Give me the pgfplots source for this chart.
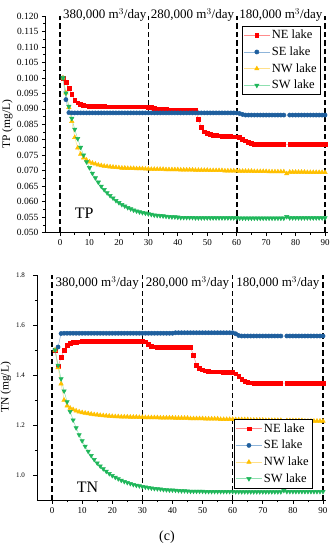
\documentclass[border=0pt]{standalone}
\usepackage{fontspec}
\setmainfont{Liberation Serif}
\usepackage{pgfplots}
\pgfplotsset{compat=1.18}
\definecolor{cNE}{HTML}{FF0000}
\definecolor{cNEl}{HTML}{FF8C8C}
\definecolor{cSE}{HTML}{1F5F9E}
\definecolor{cSEl}{HTML}{8FB5DA}
\definecolor{cNW}{HTML}{FFC000}
\definecolor{cNWl}{HTML}{FFE08A}
\definecolor{cSW}{HTML}{1FB65A}
\definecolor{cSWl}{HTML}{8FE0B0}
\pgfplotsset{
  myax/.style={
    scale only axis, clip=false,
    axis x line*=bottom, axis y line*=left,
    axis line style={-, line width=0.8pt},
    tick align=outside, major tick length=3.5pt, minor tick length=2pt,
    every tick/.style={black, line width=0.7pt},
    xmin=-5, xmax=91, xtick={0,10,...,90}, minor x tick num=1,
    /pgf/number format/assume math mode=true,
    x tick label style={font=\fontsize{9}{10}\selectfont},
    legend cell align=left,
    legend style={draw=black, line width=0.5pt, fill=white, font=\fontsize{12.5}{13.5}\selectfont, inner xsep=2pt, inner ysep=2pt, /tikz/row sep=2.5pt},
    legend image code/.code={\draw[mark repeat=2,mark phase=2] plot coordinates {(0cm,0cm)(0.45cm,0cm)(0.9cm,0cm)};},
  },
  sNE/.style={cNEl, line width=0.5pt, mark=square*, mark size=1.9pt, mark options={fill=cNE, draw=cNE, solid}},
  sSE/.style={cSEl, line width=0.5pt, mark=*, mark size=2.1pt, mark options={fill=cSE, draw=cSE, solid}},
  sNW/.style={cNWl, line width=0.5pt, mark=triangle*, mark size=2.5pt, mark options={fill=cNW, draw=cNW, solid}},
  sSW/.style={cSWl, line width=0.5pt, mark=triangle*, mark size=2.5pt, mark options={fill=cSW, draw=cSW, solid, rotate=180}},
  vdash/.style={black, line width=1.6pt, dash pattern=on 5.5pt off 3pt, mark=none, forget plot},
}
\begin{document}
\begin{tikzpicture}
\path[use as bounding box] (0,0) rectangle (334pt,-550pt);
% ---------------- TP ----------------
\begin{axis}[myax, at={(45.3pt,-232.7pt)}, anchor=south west,
  width=282.7pt, height=216.7pt, ymin=0.05, ymax=0.12,
  ytick={0.050,0.055,0.060,0.065,0.070,0.075,0.080,0.085,0.090,0.095,0.100,0.105,0.110,0.115,0.120},
  minor y tick num=1,
  y tick label style={font=\fontsize{9.5}{10}\selectfont, /pgf/number format/.cd, fixed, fixed zerofill, precision=3},
  ylabel={TP (mg/L)},
  every axis y label/.style={at={(rel axis cs:0,0.5)}, xshift=-38pt, rotate=90, anchor=center, font=\fontsize{11.5}{12}\selectfont},
  legend style={at={(0.975,0.954)}, anchor=north east},
]
\addplot[vdash] coordinates {(0,0.05) (0,0.12)};
\addplot[vdash] coordinates {(30,0.05) (30,0.12)};
\addplot[vdash] coordinates {(60,0.05) (60,0.12)};
\addplot[vdash] coordinates {(90,0.05) (90,0.12)};
\addplot[sNE] coordinates {
(1,0.1000)(2,0.0985)(3,0.0967)(4,0.0948)(5,0.0928)(6,0.0920)(7,0.0915)(8,0.0912)(9,0.0910)(10,0.0909)
(11,0.0908)(12,0.0908)(13,0.0908)(14,0.0908)(15,0.0908)(16,0.0907)(17,0.0907)(18,0.0907)(19,0.0907)(20,0.0907)
(21,0.0907)(22,0.0907)(23,0.0907)(24,0.0907)(25,0.0907)(26,0.0907)(27,0.0907)(28,0.0907)(29,0.0907)(30,0.0906)
(31,0.0904)(32,0.0901)(33,0.0899)(34,0.0898)(35,0.0898)(36,0.0898)(37,0.0897)(38,0.0897)(39,0.0897)(40,0.0897)
(41,0.0897)(42,0.0896)(43,0.0896)(44,0.0896)(45,0.0896)(46,0.0896)(47,0.0866)(48,0.0840)(49,0.0826)(50,0.0820)
(51,0.0817)(52,0.0815)(53,0.0814)(54,0.0813)(55,0.0812)(56,0.0812)(57,0.0811)(58,0.0811)(59,0.0810)(60,0.0810)
(61,0.0808)(62,0.0803)(63,0.0797)(64,0.0792)(65,0.0789)(66,0.0787)(67,0.0786)(68,0.0786)(69,0.0786)(70,0.0786)
(71,0.0785)(72,0.0785)(73,0.0785)(74,0.0785)(75,0.0785)(76,0.0785)(78,0.0785)(79,0.0785)(80,0.0785)
(81,0.0785)(82,0.0785)(83,0.0785)(84,0.0785)(85,0.0785)(86,0.0785)(87,0.0785)(88,0.0785)(89,0.0785)(90,0.0785)};
\addlegendentry{NE lake}
\addplot[sSE] coordinates {
(1,0.1000)(2,0.0930)(3,0.0888)(4,0.0887)(5,0.0887)(6,0.0887)(7,0.0887)(8,0.0887)(9,0.0887)(10,0.0887)
(11,0.0887)(12,0.0887)(13,0.0887)(14,0.0887)(15,0.0887)(16,0.0887)(17,0.0887)(18,0.0887)(19,0.0887)(20,0.0887)
(21,0.0887)(22,0.0887)(23,0.0887)(24,0.0887)(25,0.0887)(26,0.0887)(27,0.0887)(28,0.0887)(29,0.0887)(30,0.0887)
(31,0.0887)(32,0.0887)(33,0.0887)(34,0.0887)(35,0.0887)(36,0.0887)(37,0.0887)(38,0.0887)(39,0.0887)(40,0.0887)
(41,0.0887)(42,0.0887)(43,0.0887)(44,0.0887)(45,0.0887)(46,0.0887)(47,0.0887)(48,0.0887)(49,0.0887)(50,0.0887)
(51,0.0887)(52,0.0887)(53,0.0887)(54,0.0887)(55,0.0887)(56,0.0887)(57,0.0887)(58,0.0887)(59,0.0887)(60,0.0887)
(61,0.0885)(62,0.0882)(63,0.0880)(64,0.0880)(65,0.0880)(66,0.0880)(67,0.0880)(68,0.0880)(69,0.0880)(70,0.0880)
(71,0.0880)(72,0.0880)(73,0.0880)(74,0.0880)(75,0.0880)(76,0.0880)(78,0.0880)(79,0.0880)(80,0.0880)
(81,0.0880)(82,0.0880)(83,0.0880)(84,0.0880)(85,0.0880)(86,0.0880)(87,0.0880)(88,0.0880)(89,0.0880)(90,0.0880)};
\addlegendentry{SE lake}
\addplot[sNW] coordinates {
(1,0.1000)(2,0.0952)(3,0.0905)(4,0.0860)(5,0.0808)(6,0.0774)(7,0.0754)(8,0.0742)(9,0.0735)(10,0.0729)
(11,0.0725)(12,0.0722)(13,0.0719)(14,0.0717)(15,0.0715)(16,0.0714)(17,0.0713)(18,0.0712)(19,0.0711)(20,0.0710)
(21,0.0709)(22,0.0709)(23,0.0708)(24,0.0708)(25,0.0708)(26,0.0707)(27,0.0707)(28,0.0707)(29,0.0706)(30,0.0706)
(31,0.0705)(32,0.0705)(33,0.0705)(34,0.0705)(35,0.0705)(36,0.0704)(37,0.0704)(38,0.0704)(39,0.0704)(40,0.0704)
(41,0.0703)(42,0.0703)(43,0.0703)(44,0.0703)(45,0.0703)(46,0.0702)(47,0.0702)(48,0.0702)(49,0.0702)(50,0.0702)
(51,0.0701)(52,0.0701)(53,0.0701)(54,0.0701)(55,0.0701)(56,0.0700)(57,0.0700)(58,0.0700)(59,0.0700)(60,0.0700)
(61,0.0699)(62,0.0699)(63,0.0699)(64,0.0699)(65,0.0699)(66,0.0698)(67,0.0698)(68,0.0698)(69,0.0698)(70,0.0698)
(71,0.0697)(72,0.0697)(73,0.0697)(74,0.0697)(75,0.0697)(76,0.0697)(77,0.0691)(78,0.0696)(79,0.0696)(80,0.0696)
(81,0.0696)(82,0.0696)(83,0.0696)(84,0.0695)(85,0.0695)(86,0.0695)(87,0.0695)(88,0.0695)(89,0.0695)(90,0.0695)};
\addlegendentry{NW lake}
\addplot[sSW] coordinates {
(1,0.1000)(2,0.0951)(3,0.0908)(4,0.0869)(5,0.0834)(6,0.0804)(7,0.0776)(8,0.0751)(9,0.0729)(10,0.0710)
(11,0.0692)(12,0.0677)(13,0.0663)(14,0.0650)(15,0.0639)(16,0.0629)(17,0.0620)(18,0.0612)(19,0.0604)(20,0.0597)
(21,0.0591)(22,0.0586)(23,0.0581)(24,0.0577)(25,0.0573)(26,0.0570)(27,0.0567)(28,0.0565)(29,0.0563)(30,0.0561)
(31,0.0559)(32,0.0557)(33,0.0556)(34,0.0555)(35,0.0554)(36,0.0553)(37,0.0552)(38,0.0551)(39,0.0551)(40,0.0550)
(41,0.0549)(42,0.0549)(43,0.0549)(44,0.0549)(45,0.0549)(46,0.0548)(47,0.0548)(48,0.0548)(49,0.0548)(50,0.0548)
(51,0.0548)(52,0.0548)(53,0.0548)(54,0.0548)(55,0.0548)(56,0.0548)(57,0.0548)(58,0.0548)(59,0.0548)(60,0.0548)
(61,0.0547)(62,0.0547)(63,0.0547)(64,0.0547)(65,0.0547)(66,0.0547)(67,0.0547)(68,0.0547)(69,0.0547)(70,0.0547)
(71,0.0547)(72,0.0547)(73,0.0547)(74,0.0547)(75,0.0547)(76,0.0547)(77,0.0552)(78,0.0548)(79,0.0548)(80,0.0548)
(81,0.0548)(82,0.0548)(83,0.0548)(84,0.0548)(85,0.0548)(86,0.0548)(87,0.0548)(88,0.0548)(89,0.0548)(90,0.0548)};
\addlegendentry{SW lake}
\node[font=\fontsize{13}{15}\selectfont] at (axis cs:15.2,0.1204) {380,000 m$^{3}$/day};
\node[font=\fontsize{13}{15}\selectfont] at (axis cs:45,0.1204) {280,000 m$^{3}$/day};
\node[font=\fontsize{13}{15}\selectfont] at (axis cs:75,0.1204) {180,000 m$^{3}$/day};
\node[font=\fontsize{16}{18}\selectfont] at (axis cs:8.2,0.0564) {TP};
\end{axis}
% ---------------- TN ----------------
\begin{axis}[myax, at={(37pt,-500pt)}, anchor=south west,
  width=289pt, height=225pt, ymin=0.9, ymax=1.8,
  ytick={1.0,1.2,1.4,1.6,1.8}, minor y tick num=1,
  y tick label style={font=\fontsize{7}{8}\selectfont, xshift=-5pt, /pgf/number format/.cd, fixed, fixed zerofill, precision=1},
  ylabel={TN (mg/L)},
  every axis y label/.style={at={(rel axis cs:0,0.5)}, xshift=-31pt, rotate=90, anchor=center, font=\fontsize{11.5}{12}\selectfont},
  legend style={at={(0.955,0.053)}, anchor=south east},
]
\addplot[vdash] coordinates {(0,0.9) (0,1.8)};
\addplot[vdash] coordinates {(30,0.9) (30,1.8)};
\addplot[vdash] coordinates {(60,0.9) (60,1.8)};
\addplot[vdash] coordinates {(90,0.9) (90,1.8)};
\addplot[sNE] coordinates {
(1,1.500)(2,1.435)(3,1.470)(4,1.500)(5,1.518)(6,1.526)(7,1.530)(8,1.532)(9,1.533)(10,1.534)
(11,1.535)(12,1.535)(13,1.535)(14,1.535)(15,1.535)(16,1.535)(17,1.535)(18,1.535)(19,1.535)(20,1.535)
(21,1.536)(22,1.536)(23,1.536)(24,1.536)(25,1.536)(26,1.536)(27,1.536)(28,1.536)(29,1.536)(30,1.536)
(31,1.533)(32,1.524)(33,1.516)(34,1.513)(35,1.512)(36,1.512)(37,1.512)(38,1.512)(39,1.512)(40,1.512)
(41,1.511)(42,1.511)(43,1.511)(44,1.511)(45,1.511)(46,1.511)(47,1.478)(48,1.440)(49,1.428)(50,1.421)
(51,1.417)(52,1.415)(53,1.413)(54,1.413)(55,1.413)(56,1.413)(57,1.411)(58,1.411)(59,1.411)(60,1.411)
(61,1.405)(62,1.395)(63,1.384)(64,1.376)(65,1.371)(66,1.369)(67,1.368)(68,1.368)(69,1.368)(70,1.368)
(71,1.368)(72,1.368)(73,1.368)(74,1.368)(75,1.368)(76,1.368)(78,1.367)(79,1.367)(80,1.367)
(81,1.367)(82,1.367)(83,1.367)(84,1.367)(85,1.367)(86,1.367)(87,1.367)(88,1.367)(89,1.367)(90,1.367)};
\addlegendentry{NE lake}
\addplot[sSE] coordinates {
(1,1.500)(2,1.512)(3,1.566)(4,1.567)(5,1.567)(6,1.567)(7,1.567)(8,1.567)(9,1.567)(10,1.567)
(11,1.567)(12,1.567)(13,1.567)(14,1.567)(15,1.567)(16,1.567)(17,1.567)(18,1.567)(19,1.567)(20,1.567)
(21,1.567)(22,1.567)(23,1.567)(24,1.567)(25,1.567)(26,1.567)(27,1.567)(28,1.567)(29,1.567)(30,1.567)
(31,1.567)(32,1.567)(33,1.567)(34,1.567)(35,1.567)(36,1.567)(37,1.567)(38,1.567)(39,1.567)(40,1.567)
(41,1.569)(42,1.569)(43,1.569)(44,1.569)(45,1.569)(46,1.569)(47,1.569)(48,1.569)(49,1.569)(50,1.569)
(51,1.569)(52,1.569)(53,1.569)(54,1.569)(55,1.569)(56,1.569)(57,1.569)(58,1.569)(59,1.569)(60,1.569)
(61,1.565)(62,1.558)(63,1.556)(64,1.556)(65,1.556)(66,1.556)(67,1.556)(68,1.556)(69,1.556)(70,1.556)
(71,1.556)(72,1.556)(73,1.556)(74,1.556)(75,1.556)(76,1.556)(78,1.556)(79,1.556)(80,1.556)
(81,1.556)(82,1.556)(83,1.556)(84,1.556)(85,1.556)(86,1.556)(87,1.556)(88,1.556)(89,1.556)(90,1.556)};
\addlegendentry{SE lake}
\addplot[sNW] coordinates {
(1,1.500)(2,1.430)(3,1.365)(4,1.300)(5,1.277)(6,1.268)(7,1.262)(8,1.257)(9,1.253)(10,1.250)
(11,1.248)(12,1.246)(13,1.244)(14,1.242)(15,1.241)(16,1.239)(17,1.238)(18,1.237)(19,1.236)(20,1.235)
(21,1.234)(22,1.234)(23,1.233)(24,1.233)(25,1.233)(26,1.232)(27,1.232)(28,1.232)(29,1.231)(30,1.231)
(31,1.230)(32,1.230)(33,1.230)(34,1.230)(35,1.230)(36,1.229)(37,1.229)(38,1.229)(39,1.229)(40,1.229)
(41,1.228)(42,1.228)(43,1.228)(44,1.228)(45,1.228)(46,1.226)(47,1.226)(48,1.226)(49,1.226)(50,1.226)
(51,1.225)(52,1.225)(53,1.225)(54,1.225)(55,1.225)(56,1.223)(57,1.223)(58,1.223)(59,1.223)(60,1.223)
(61,1.222)(62,1.222)(63,1.222)(64,1.222)(65,1.222)(66,1.220)(67,1.220)(68,1.220)(69,1.220)(70,1.220)
(71,1.219)(72,1.219)(73,1.219)(74,1.219)(75,1.219)(76,1.219)(77,1.212)(78,1.218)(79,1.218)(80,1.218)
(81,1.218)(82,1.218)(83,1.218)(84,1.216)(85,1.216)(86,1.216)(87,1.216)(88,1.216)(89,1.216)(90,1.216)};
\addlegendentry{NW lake}
\addplot[sSW] coordinates {
(1,1.500)(2,1.439)(3,1.385)(4,1.336)(5,1.293)(6,1.254)(7,1.220)(8,1.189)(9,1.161)(10,1.137)
(11,1.115)(12,1.095)(13,1.078)(14,1.062)(15,1.048)(16,1.036)(17,1.025)(18,1.015)(19,1.006)(20,0.998)
(21,0.991)(22,0.985)(23,0.979)(24,0.974)(25,0.970)(26,0.966)(27,0.962)(28,0.959)(29,0.957)(30,0.954)
(31,0.952)(32,0.950)(33,0.948)(34,0.946)(35,0.945)(36,0.944)(37,0.942)(38,0.941)(39,0.940)(40,0.940)
(41,0.939)(42,0.938)(43,0.937)(44,0.937)(45,0.936)(46,0.935)(47,0.935)(48,0.935)(49,0.935)(50,0.935)
(51,0.934)(52,0.934)(53,0.934)(54,0.934)(55,0.934)(56,0.934)(57,0.934)(58,0.934)(59,0.934)(60,0.934)
(61,0.933)(62,0.933)(63,0.933)(64,0.933)(65,0.933)(66,0.933)(67,0.933)(68,0.933)(69,0.933)(70,0.933)
(71,0.933)(72,0.933)(73,0.933)(74,0.933)(75,0.933)(76,0.933)(77,0.938)(78,0.934)(79,0.934)(80,0.934)
(81,0.934)(82,0.934)(83,0.934)(84,0.934)(85,0.934)(86,0.934)(87,0.934)(88,0.934)(89,0.934)(90,0.934)};
\addlegendentry{SW lake}
\node[font=\fontsize{13}{15}\selectfont] at (axis cs:15,1.768) {380,000 m$^{3}$/day};
\node[font=\fontsize{13}{15}\selectfont] at (axis cs:45,1.768) {280,000 m$^{3}$/day};
\node[font=\fontsize{13}{15}\selectfont] at (axis cs:75,1.768) {180,000 m$^{3}$/day};
\node[font=\fontsize{16}{18}\selectfont] at (axis cs:11.8,0.952) {TN};
\end{axis}
\node[font=\fontsize{14}{16}\selectfont] at (167pt,-537pt) {(c)};
\end{tikzpicture}
\end{document}
